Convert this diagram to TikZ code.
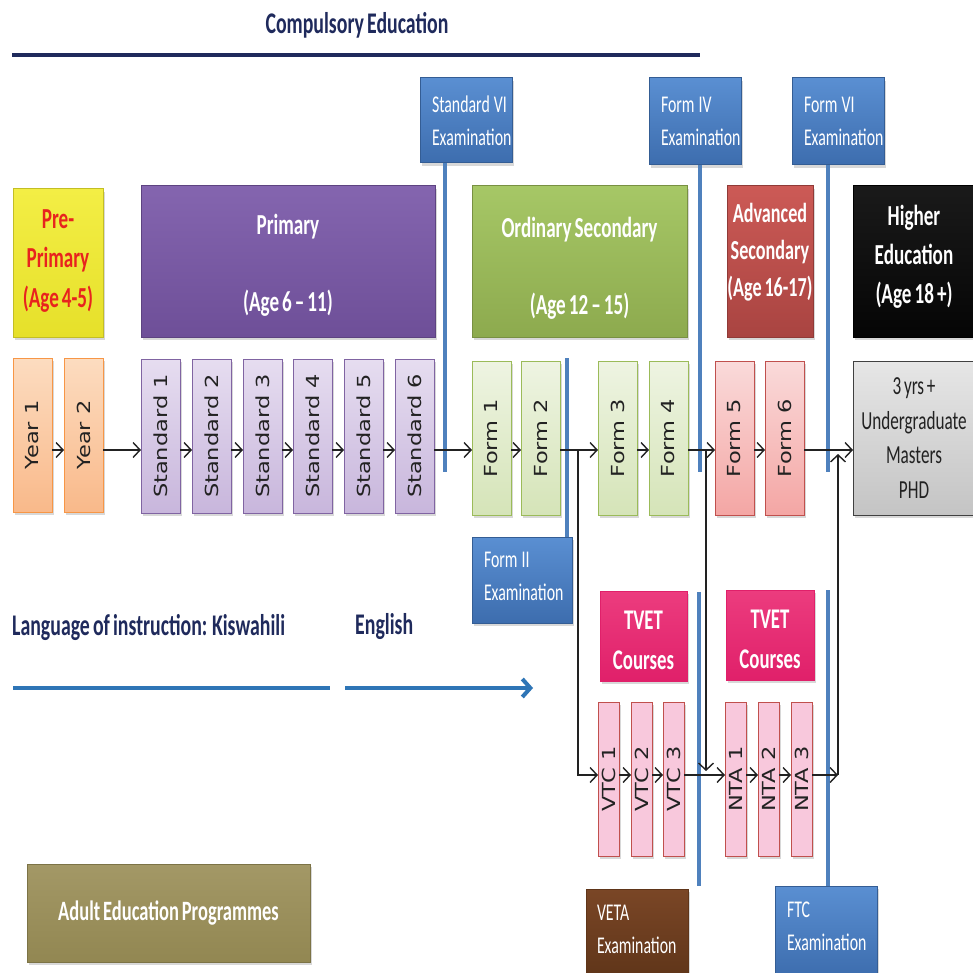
\documentclass[tikz,border=0pt]{standalone}
\usepackage{fontspec}
\setmainfont{Carlito}[FakeStretch=0.66, WordSpace=0.7]
\newfontfamily\rotfont{DejaVu Sans}
\usetikzlibrary{arrows.meta,shadows}
\definecolor{navy}{HTML}{1F2A5C}
\definecolor{txt}{HTML}{222222}
\definecolor{lineblue}{HTML}{4F81BD}
\definecolor{langblue}{HTML}{2E75B6}
\definecolor{exT}{HTML}{5A8FD2}
\definecolor{exB}{HTML}{3D6DAE}
\definecolor{yelT}{HTML}{F3EE45}
\definecolor{yelB}{HTML}{E6E02A}
\definecolor{redtxt}{HTML}{E8231E}
\definecolor{purT}{HTML}{8465AF}
\definecolor{purB}{HTML}{6E4F98}
\definecolor{grnT}{HTML}{A6C766}
\definecolor{grnB}{HTML}{8DAA4E}
\definecolor{advT}{HTML}{CC5A56}
\definecolor{advB}{HTML}{A94441}
\definecolor{blkT}{HTML}{1A1A1A}
\definecolor{blkB}{HTML}{050505}
\definecolor{yrT}{HTML}{FCDCC0}
\definecolor{yrB}{HTML}{F9B98A}
\definecolor{yrD}{HTML}{F79646}
\definecolor{stT}{HTML}{E6DDF0}
\definecolor{stB}{HTML}{C8B6DC}
\definecolor{stD}{HTML}{8064A2}
\definecolor{fmT}{HTML}{EEF4E2}
\definecolor{fmB}{HTML}{D5E4B8}
\definecolor{fmD}{HTML}{9BBB59}
\definecolor{pkT}{HTML}{FADADA}
\definecolor{pkB}{HTML}{F4A6A4}
\definecolor{pkD}{HTML}{C0504D}
\definecolor{gyT}{HTML}{E6E6E6}
\definecolor{gyB}{HTML}{C4C4C4}
\definecolor{tvT}{HTML}{EC3C7E}
\definecolor{tvB}{HTML}{E0206A}
\definecolor{vtF}{HTML}{F8C8DC}
\definecolor{brT}{HTML}{7A4626}
\definecolor{brB}{HTML}{5F3519}
\definecolor{olT}{HTML}{A39866}
\definecolor{olB}{HTML}{928752}
\newcommand\rtx[1]{\rotatebox{90}{\scalebox{1}[0.8]{#1}}}
\newcommand\up[1]{\rule[-#1pt]{0pt}{#1pt}}
\newcommand\dn[1]{\rule{0pt}{#1pt}}
\newcommand\exfont{\fontsize{24}{33}\selectfont}
\tikzset{
  wh/.style 2 args={minimum width=#1pt, minimum height=#2pt},
  base/.style={anchor=north west, inner sep=0pt, outer sep=0pt, line width=1pt, align=center},
  shd/.style={drop shadow={opacity=0.3,shadow xshift=1.5pt,shadow yshift=-3pt}},
  exbox/.style={base, shd, draw=exB!85!black, top color=exT, bottom color=exB, text=white,
     align=left, inner xsep=12pt, font=\exfont},
  head/.style={base, shd, text=white, font=\bfseries\fontsize{29}{39}\selectfont},
  cell/.style={base, shd, font=\rotfont\fontsize{22.5}{22.5}\selectfont, text=txt},
  yr/.style={cell, wh={39}{154}, top color=yrT, bottom color=yrB, draw=yrD},
  st/.style={cell, wh={39}{154}, top color=stT, bottom color=stB, draw=stD},
  fm/.style={cell, wh={39}{154}, top color=fmT, bottom color=fmB, draw=fmD},
  pk/.style={cell, wh={39}{154}, top color=pkT, bottom color=pkB, draw=pkD},
  vt/.style={cell, wh={21}{154}, fill=vtF, draw=pkD},
  arr/.style={draw=txt, line width=1.4pt, -{Straight Barb[length=7pt,width=15pt,line width=1.4pt]}},
  vline/.style={draw=lineblue, line width=3.5pt},
  lang/.style={text=navy, font=\bfseries\fontsize{30}{34}\selectfont, inner sep=0pt}
}
\begin{document}
\begin{tikzpicture}[x=1pt,y=-1pt]
\useasboundingbox[fill=white] (0,0) rectangle (972,973);

% title
\node[text=navy, font=\bfseries\fontsize{30}{34}\selectfont, inner sep=0pt] (title) at (357,25) {Compulsory Education};
\draw[navy, line width=4pt] (12,55) -- (700,55);

% examination boxes (top)
\node[exbox, wh={92}{85}, text width=68pt] (e6) at (420,78) {\mbox{Standard\hspace{4pt}VI}\\\mbox{Examination}};
\node[exbox, wh={92}{87}, text width=68pt] (e4) at (649,78) {\mbox{Form\hspace{4pt}IV}\\\mbox{Examination}};
\node[exbox, wh={92}{87}, text width=68pt] (eVI) at (792,78) {\mbox{Form\hspace{4pt}VI}\\\mbox{Examination}};
\draw[vline] ([xshift=25pt]e6.south west) -- ++(0,309);
\draw[vline] ([xshift=51pt]e4.south west) -- ++(0,307);
\draw[vline] ([xshift=36pt]eVI.south west) -- ++(0,307);

% level boxes
\node[head, wh={90}{148}, top color=yelT, bottom color=yelB, draw=yelB!85!black, text=redtxt] (pre) at (13,189) {\dn{22}Pre-\\Primary\\(Age 4-5)\up{12}};
\node[head, wh={294}{151}, top color=purT, bottom color=purB, draw=purB!85!black] (prim) at (141,186) {\dn{28}Primary\\[38pt](Age 6 – 11)};
\node[head, wh={215}{151}, top color=grnT, bottom color=grnB, draw=grnB!85!black] (ord) at (472,186) {\dn{34}Ordinary Secondary\\[38pt](Age 12 – 15)};
\node[head, wh={86}{151}, top color=advT, bottom color=advB, draw=advB!85!black, font=\bfseries\fontsize{27.5}{37}\selectfont] (adv) at (727,186) {Advanced\\Secondary\\(Age 16-17)\up{23}};
\node[head, wh={122}{151}, top color=blkT, bottom color=blkB, draw=black] (high) at (853,186) {Higher\\Education\\(Age 18 +)\up{15}};

% year cells
\node[yr] (y1) at (13,358) {\rtx{Year 1}};
\node[yr] (y2) at (64,358) {\rtx{Year 2}};
\node[st] (s1) at (141,359) {\rtx{Standard 1}};
\node[st] (s2) at (192,359) {\rtx{Standard 2}};
\node[st] (s3) at (243,359) {\rtx{Standard 3}};
\node[st] (s4) at (293,359) {\rtx{Standard 4}};
\node[st] (s5) at (344,359) {\rtx{Standard 5}};
\node[st] (s6) at (395,359) {\rtx{Standard 6}};
\node[fm] (f1) at (472,361) {\rtx{Form 1}};
\node[fm] (f2) at (521,361) {\rtx{Form 2}};
\node[fm] (f3) at (598,361) {\rtx{Form 3}};
\node[fm] (f4) at (649,361) {\rtx{Form 4}};
\node[pk] (f5) at (715,361) {\rtx{Form 5}};
\node[pk] (f6) at (765,361) {\rtx{Form 6}};
\node[base, shd, wh={122}{154}, top color=gyT, bottom color=gyB, draw=black!75, text=txt, font=\fontsize{26}{34.5}\selectfont] (he2) at (853,361) {3 yrs +\\Undergraduate\\Masters\\PHD};

% Form II exam
\node[exbox, wh={100}{86}, text width=76pt] (e2) at (472,537) {\mbox{Form\hspace{4pt}II}\\\mbox{Examination}\up{8}};
\draw[vline] ([xshift=95pt]e2.north west) -- ++(0,-179);

% main arrows
\coordinate (m) at (0,450);
\draw[arr] (y1.east |- m) -- (y2.west |- m);
\draw[arr] (y2.east |- m) -- (s1.west |- m);
\draw[arr] (s1.east |- m) -- (s2.west |- m);
\draw[arr] (s2.east |- m) -- (s3.west |- m);
\draw[arr] (s3.east |- m) -- (s4.west |- m);
\draw[arr] (s4.east |- m) -- (s5.west |- m);
\draw[arr] (s5.east |- m) -- (s6.west |- m);
\draw[arr] (s6.east |- m) -- (f1.west |- m);
\draw[arr] (f1.east |- m) -- (f2.west |- m);
\draw[arr] (f2.east |- m) -- (f3.west |- m);
\draw[arr] (f3.east |- m) -- (f4.west |- m);
\draw[arr] (f4.east |- m) -- (f5.west |- m);
\draw[arr] (f5.east |- m) -- (f6.west |- m);
\draw[arr] (f6.east |- m) -- (he2.west |- m);

% TVET
\node[base, shd, wh={87}{90}, top color=tvT, bottom color=tvB, draw=tvB, text=white, font=\bfseries\fontsize{28.5}{40}\selectfont] (tv1) at (600,591) {\dn{27}TVET\\Courses};
\node[base, shd, wh={88}{90}, top color=tvT, bottom color=tvB, draw=tvB, text=white, font=\bfseries\fontsize{28.5}{40}\selectfont] (tv2) at (726,590) {\dn{27}TVET\\Courses};
\node[vt] (v1) at (598,702) {\rtx{VTC 1}};
\node[vt] (v2) at (631,702) {\rtx{VTC 2}};
\node[vt] (v3) at (663,702) {\rtx{VTC 3}};
\node[vt] (n1) at (725,702) {\rtx{NTA 1}};
\node[vt] (n2) at (758,702) {\rtx{NTA 2}};
\node[vt] (n3) at (791,702) {\rtx{NTA 3}};
\coordinate (tl1a) at (699,592);
\coordinate (tl1b) at (699,886);
\draw[vline] (tl1a) -- (tl1b);

\node[base, shd, wh={102}{90}, top color=brT, bottom color=brB, draw=brB, text=white, align=left, inner xsep=11pt, text width=80pt, font=\exfont] (veta) at (586,889) {\mbox{VETA}\\\mbox{Examination}\up{10}};
\node[exbox, wh={102}{90}, text width=78pt] (ftc) at (775,886) {\mbox{FTC}\\\mbox{Examination}\up{9}};
\draw[vline] ([xshift=53pt]ftc.north west) -- ++(0,-296);

% branch connectors
\coordinate (l) at (0,775);
\coordinate (b1) at (578,450);
\coordinate (b1d) at (578,775);
\coordinate (b2) at (706,450);
\coordinate (b2d) at (706,771);
\coordinate (b3d) at (838,775);
\coordinate (b3u) at (838,454);
\draw[arr] (b1) -- (b1d) -- (v1.west |- l);
\draw[arr] (v1.east |- l) -- (v2.west |- l);
\draw[arr] (v2.east |- l) -- (v3.west |- l);
\draw[arr] (v3.east |- l) -- (n1.west |- l);
\draw[arr] (n1.east |- l) -- (n2.west |- l);
\draw[arr] (n2.east |- l) -- (n3.west |- l);
\draw[arr] (b2) -- (b2d);
\draw[arr] (n3.east |- l) -- (b3d);
\draw[arr] (b3d) -- (b3u);

% language of instruction
\node[lang, anchor=west] (kis) at (12,627) {Language of instruction: Kiswahili};
\node[lang, anchor=west] (eng) at (355,627) {English};
\draw[langblue, line width=4pt] (13,688) -- (330,688);
\draw[langblue, line width=4pt, -{Straight Barb[length=8pt,width=18pt,line width=4pt]}] (345,688) -- (533,688);

% adult education
\node[base, shd, wh={283}{98}, top color=olT, bottom color=olB, draw=olB!85!black, text=white, font=\bfseries\fontsize{28}{30}\selectfont] (adult) at (27,864) {Adult Education Programmes};
\end{tikzpicture}
\end{document}
